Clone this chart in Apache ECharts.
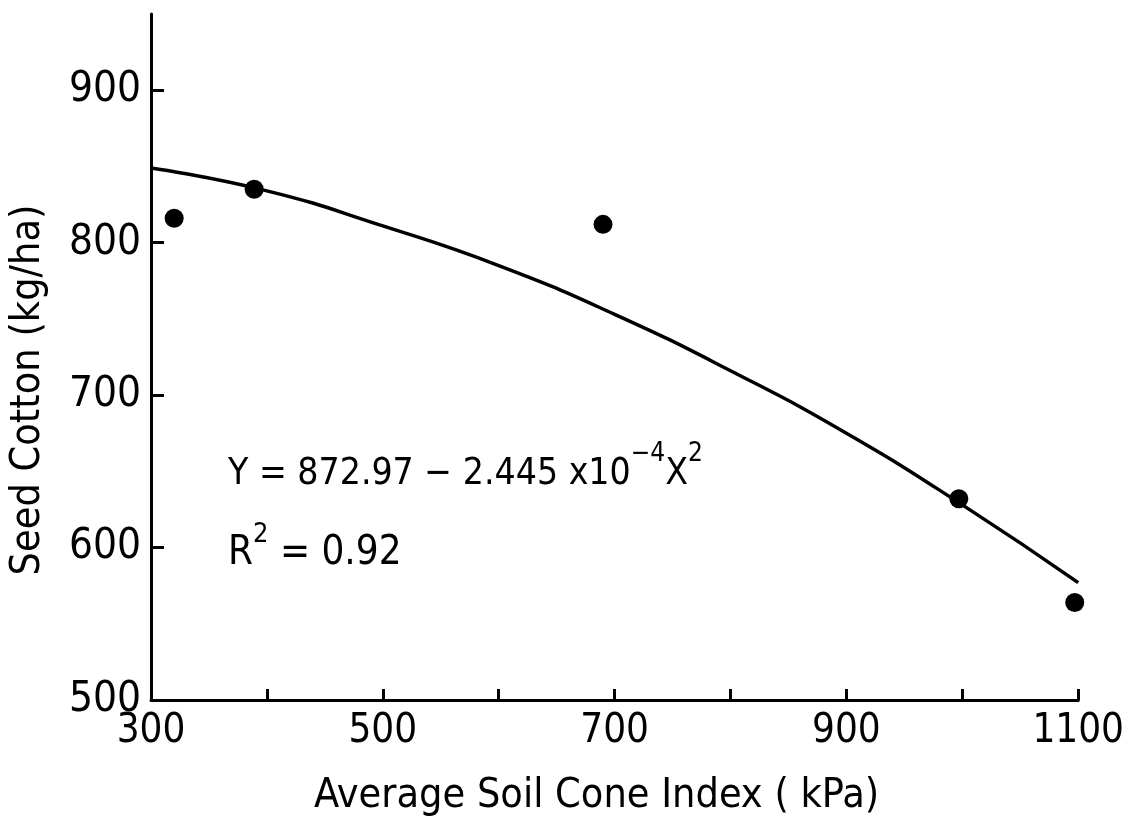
<!DOCTYPE html>
<html>
<head>
<meta charset="utf-8">
<script src="https://cdn.jsdelivr.net/npm/echarts@6/dist/echarts.min.js"></script>
<style>
  html, body { margin: 0; padding: 0; background: #fff; }
  #chart { width: 1127px; height: 822px; }
</style>
</head>
<body>
<div id="chart"></div>
<script>
// observed plots (cone index kPa, seed cotton kg/ha)
var pointX = [320, 389, 690, 997, 1097];
var pointY = [816, 835, 812, 632, 564];

// fitted curve
var curveX = [300, 400, 500, 600, 700, 800, 900, 1000, 1100];
var curveY = [849, 834, 811, 785, 753, 716, 675, 628, 577];

var xTicks = [300, 400, 500, 600, 700, 800, 900, 1000, 1100];
var xLabels = [300, 500, 700, 900, 1100];
var yTicks = [500, 600, 700, 800, 900];

var FONT = '"DejaVu Sans Condensed", "Liberation Sans Narrow", sans-serif';

var chart = echarts.init(document.getElementById('chart'));

var option = {
  backgroundColor: '#fff',
  animation: false,
  grid: { left: 150, right: 47, top: 14, bottom: 113 },
  xAxis: {
    type: 'value',
    min: 300,
    max: 1100,
    interval: 100,
    name: 'Average Soil Cone Index ( kPa)',
    nameLocation: 'middle',
    nameGap: 76,
    nameTextStyle: { color: '#000', fontSize: 41, fontFamily: FONT, padding: [0, 36, 0, 0] },
    axisLine: { show: true, lineStyle: { color: '#000', width: 3 } },
    axisTick: { show: true, inside: true, length: 11, lineStyle: { color: '#000', width: 3 }, customValues: xTicks },
    axisLabel: {
      color: '#000', fontSize: 40, fontFamily: FONT, margin: 12, customValues: xLabels,
      formatter: function (v) { return String(v); }
    },
    splitLine: { show: false }
  },
  yAxis: {
    type: 'value',
    min: 500,
    max: 950,
    interval: 50,
    name: 'Seed Cotton (kg/ha)',
    nameLocation: 'middle',
    nameGap: 102,
    nameTextStyle: { color: '#000', fontSize: 41, fontFamily: FONT, padding: [0, 66, 0, 0] },
    axisLine: { show: true, lineStyle: { color: '#000', width: 3 } },
    axisTick: { show: true, inside: true, length: 13, lineStyle: { color: '#000', width: 3 }, customValues: yTicks },
    axisLabel: { color: '#000', fontSize: 42, fontFamily: FONT, margin: 10, customValues: yTicks },
    splitLine: { show: false }
  },
  graphic: [
    {
      type: 'text',
      left: 228,
      top: 441,
      style: {
        text: '{t|Y = 872.97 − 2.445 x10}{s|−4}{t|X}{s|2}',
        rich: {
          t: { fontSize: 37, fontFamily: FONT, fill: '#000', verticalAlign: 'bottom' },
          s: { fontSize: 26, fontFamily: FONT, fill: '#000', verticalAlign: 'top', padding: [0, 0, 26, 0] }
        }
      }
    },
    {
      type: 'text',
      left: 228,
      top: 521,
      style: {
        text: '{t|R}{s|2}{t| = 0.92}',
        rich: {
          t: { fontSize: 40, fontFamily: FONT, fill: '#000', verticalAlign: 'bottom' },
          s: { fontSize: 27, fontFamily: FONT, fill: '#000', verticalAlign: 'top', padding: [0, 0, 26, 0] }
        }
      }
    }
  ],
  series: [
    {
      type: 'line',
      data: curveX.map(function (x, i) { return [x, curveY[i]]; }),
      smooth: true,
      showSymbol: false,
      lineStyle: { color: '#000', width: 3.5 },
      z: 2
    },
    {
      type: 'scatter',
      data: pointX.map(function (x, i) { return [x, pointY[i]]; }),
      symbol: 'circle',
      symbolSize: 19,
      itemStyle: { color: '#000', opacity: 1 },
      z: 3
    }
  ]
};

chart.setOption(option);
</script>
</body>
</html>
